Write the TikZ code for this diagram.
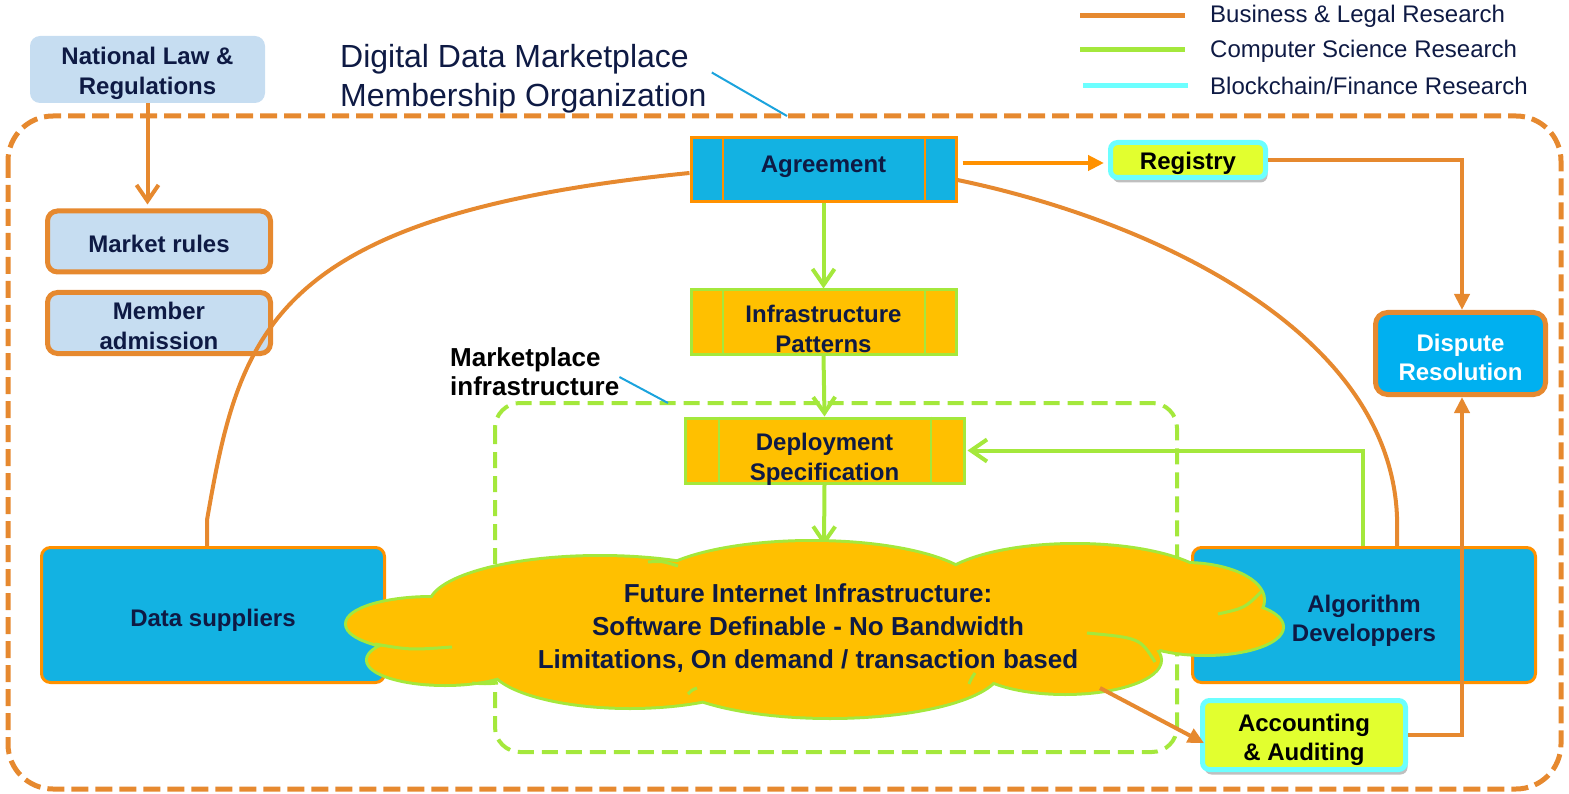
\documentclass[tikz,border=0pt]{standalone}
\usepackage{fontspec}
\setmainfont{Liberation Sans}
\usetikzlibrary{arrows.meta,calc,shadows}
\definecolor{orng}{HTML}{E6892F}
\definecolor{orng2}{HTML}{FF9100}
\definecolor{grn}{HTML}{A4E83C}
\definecolor{cyanln}{HTML}{6CFFFF}
\definecolor{ltblue}{HTML}{C6DDF1}
\definecolor{bblue}{HTML}{13B2E2}
\definecolor{dblue}{HTML}{00B0F0}
\definecolor{amber}{HTML}{FFC000}
\definecolor{yel}{HTML}{E2FF2F}
\definecolor{navy}{HTML}{0E1A44}
\definecolor{callout}{HTML}{1BA3DD}
\newcommand\cloudlobes{
  (432,624) ellipse[x radius=85,y radius=26]
  (445,660) ellipse[x radius=77,y radius=24]
  (600,606) ellipse[x radius=170,y radius=49]
  (812,590) ellipse[x radius=165,y radius=48]
  (1075,590) ellipse[x radius=140,y radius=45]
  (1185,600) ellipse[x radius=78,y radius=36]
  (1205,627) ellipse[x radius=77,y radius=27]
  (1065,660) ellipse[x radius=95,y radius=33]
  (830,668) ellipse[x radius=170,y radius=49]
  (630,663) ellipse[x radius=140,y radius=44]
  (810,625) ellipse[x radius=380,y radius=62]
}
\begin{document}
\begin{tikzpicture}[x=1pt,y=-1pt,
  bxfont/.style={font=\fontsize{24}{29.5}\selectfont\bfseries, text=navy, align=center},
  lbox/.style={fill=ltblue, rounded corners=10, inner sep=0},
  rbox/.style={lbox, draw=orng, line width=5},
  agbox/.style={fill=bblue, draw=orng2, line width=3, inner sep=0},
  amberbox/.style={fill=amber, draw=grn, line width=3, inner sep=0},
  ybox/.style={fill=yel, draw=cyanln, line width=5, rounded corners=7, inner sep=0,
     drop shadow={shadow xshift=2pt, shadow yshift=-5pt, opacity=0.25, fill=black}},
  bigbox/.style={fill=bblue, draw=orng2, line width=3, rounded corners=9, inner sep=0},
  orl/.style={draw=orng, line width=4},
  grl/.style={draw=grn, line width=4},
  otip/.style={-{Triangle[length=16pt,width=15pt]}},
  gtip/.style={-{Straight Barb[length=16pt,width=22pt]}},
  legtxt/.style={font=\fontsize{24}{29}\selectfont, text=navy, anchor=west, inner sep=0},
  divline/.style={line width=2}
]
\useasboundingbox (0,0) rectangle (1569,794);

% outer membership organization frame
\draw[orng, line width=5, dash pattern=on 17pt off 7pt, rounded corners=45] (8,116) rectangle (1561,789);
% marketplace infrastructure frame
\draw[grn, line width=4, dash pattern=on 16pt off 8pt, rounded corners=25] (495,403) rectangle (1177,752);

% title and legend
\node[font=\fontsize{32}{39}\selectfont, text=navy, align=left, anchor=west, inner sep=0] (title) at (340,78.5) {Digital Data Marketplace\\Membership Organization};
\coordinate (tcall) at (787,116);
\draw[callout, line width=2] ($(title.east)+(5,-6)$) -- (tcall);

\coordinate (l1a) at (1080,16); \coordinate (l1b) at (1185,16);
\coordinate (l2a) at (1080,50); \coordinate (l2b) at (1185,50);
\coordinate (l3a) at (1083,86); \coordinate (l3b) at (1188,86);
\draw[orng, line width=5] (l1a) -- (l1b);
\draw[grn, line width=5] (l2a) -- (l2b);
\draw[cyanln, line width=5] (l3a) -- (l3b);
\node[legtxt] (lg1) at (1210,16) {Business \& Legal Research};
\node[legtxt] (lg2) at (1210,51) {Computer Science Research};
\node[legtxt] (lg3) at (1210,86) {Blockchain/Finance Research};

% marketplace infrastructure label
\node[font=\fontsize{26}{29}\selectfont\bfseries, text=black, align=left, anchor=west, inner sep=0] (mkt) at (450,372) {Marketplace\\infrastructure};
\coordinate (mcall) at (668,403);
\draw[callout, line width=2] ($(mkt.east)+(0,5)$) -- (mcall);

% left boxes
\node[lbox, minimum width=235, minimum height=67, label={[bxfont,yshift=-4pt]center:National Law \&\\Regulations}] (natlaw) at (147.5,69.5) {};
\node[rbox, minimum width=223, minimum height=61, label={[bxfont,yshift=-2pt]center:Market rules}] (market) at (159,241.5) {};
\node[rbox, minimum width=223, minimum height=61, label={[bxfont,yshift=-3pt]center:Member\\admission}] (member) at (159,323) {};
\draw[orl, -{Straight Barb[length=16pt,width=22pt]}, shorten >=4pt] (natlaw.south) -- (natlaw.south |- market.north);

% main boxes
\node[agbox, minimum width=265, minimum height=64, label={[bxfont,yshift=3pt]center:Agreement}] (agr) at (823.5,170) {};
\draw[orng2, divline] ($(agr.north west)+(33,0)$) -- ($(agr.south west)+(33,0)$);
\draw[orng2, divline] ($(agr.north east)+(-33,0)$) -- ($(agr.south east)+(-33,0)$);

\node[amberbox, minimum width=265, minimum height=64, label={[bxfont,yshift=-7pt]center:Infrastructure\\Patterns}] (infra) at (823.5,322) {};
\draw[grn, divline] ($(infra.north west)+(33,0)$) -- ($(infra.south west)+(33,0)$);
\draw[grn, divline] ($(infra.north east)+(-33,0)$) -- ($(infra.south east)+(-33,0)$);

\node[amberbox, minimum width=279, minimum height=65, label={[bxfont,yshift=-9pt]center:Deployment\\Specification}] (deploy) at (824.5,450.5) {};
\draw[grn, divline] ($(deploy.north west)+(35,0)$) -- ($(deploy.south west)+(35,0)$);
\draw[grn, divline] ($(deploy.north east)+(-35,0)$) -- ($(deploy.south east)+(-35,0)$);

\node[ybox, minimum width=155, minimum height=35, label={[bxfont,text=black,yshift=-3pt]center:Registry}] (reg) at (1188,160) {};
\node[fill=dblue, draw=orng, line width=5, rounded corners=12, inner sep=0, minimum width=170, minimum height=82, label={[bxfont,text=white,yshift=-4pt]center:Dispute\\Resolution}] (disp) at (1460.5,353.5) {};

% arcs from agreement
\draw[orl] (agr.west |- 0,173) .. controls (270,215) and (240,330) .. (207,520) -- (207,547);
\draw[orl] (agr.east |- 0,180) .. controls (1150,220) and (1390,330) .. (1397,517) -- (1397,547);

\node[bigbox, minimum width=343, minimum height=135, label={[bxfont,yshift=-5pt]center:Data suppliers}] (datas) at (213,615) {};
\node[bigbox, minimum width=343, minimum height=135, label={[bxfont,yshift=-6pt]center:Algorithm\\Developpers}] (algo) at (1364,615) {};
\node[ybox, minimum width=203, minimum height=69, label={[bxfont,text=black,yshift=-5pt]center:Accounting\\\& Auditing}] (acct) at (1304,735) {};

% connectors
\coordinate (cloudtop) at (824,546);
\coordinate (cloudse) at (1100,688);
\draw[grl, gtip] (agr.south) -- (infra.north);
\draw[grl, gtip] (infra.south) -- (deploy.north);
\draw[grl, gtip] (deploy.south) -- (cloudtop);
\draw[grl, gtip] ($(algo.north)+(-1,0)$) |- ($(deploy.east)+(2,0)$);
\draw[draw=orng2, line width=4, otip, shorten <=5pt, shorten >=4pt] (agr.east |- 0,163) -- (reg.west |- 0,163);
\draw[orl, otip] (reg.east) -| ($(disp.north)+(1.5,0)$);
\draw[orl, otip] (acct.east) -| ($(disp.south)+(1.5,0)$);

% cloud
\draw[grn, line width=6] \cloudlobes;
\fill[amber] \cloudlobes;
\begin{scope}[grn, line width=3]
\draw (375,644) .. controls (410,650) .. (452,647);
\draw (648,562) .. controls (662,561) .. (678,566);
\draw (1218,614) .. controls (1245,608) .. (1262,591);
\draw (1087,633) .. controls (1140,638) .. (1155,662);
\draw (969,684) .. controls (971,679) .. (975,673);
\draw (688,694) .. controls (692,690) .. (697,688);
\draw (472,683) .. controls (485,684) .. (498,683);
\end{scope}
\node[font=\fontsize{26}{33}\selectfont\bfseries, text=navy, align=center, inner sep=0] (cloudtxt) at (808,628) {Future Internet Infrastructure:\\Software Definable - No Bandwidth\\Limitations, On demand / transaction based};

\draw[orl, otip] (cloudse) -- ($(acct.west)+(4,8)$);
\end{tikzpicture}
\end{document}
